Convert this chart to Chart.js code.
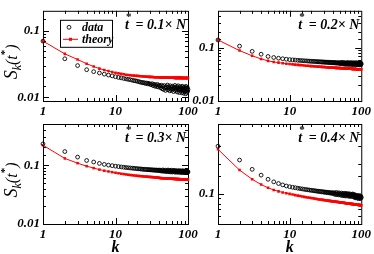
<!DOCTYPE html>
<html lang="en">
<head>
<meta charset="UTF-8">
<title>S_k(t*) versus k</title>
<script src="https://cdn.jsdelivr.net/npm/chart.js@4"></script>
<style>
  body { margin: 0; background: #fff; }
  #wrap { position: relative; width: 374px; height: 254px; }
  canvas { position: absolute; left: 0; top: 0; }
</style>
</head>
<body>
<div id="wrap">
  <canvas id="p1" width="374" height="254"></canvas>
  <canvas id="p2" width="374" height="254"></canvas>
  <canvas id="p3" width="374" height="254"></canvas>
  <canvas id="p4" width="374" height="254"></canvas>
</div>
<script>
// k = 1..100 (x positions of every sample)
const k = Array.from({length: 100}, (_, i) => i + 1);

// t* = 0.1 N
const data01 = [
  0.070, 0.038, 0.030, 0.026, 0.0243, 0.0232, 0.0223, 0.0216, 0.0210, 0.0204,
  0.0199, 0.0196, 0.0192, 0.0189, 0.0186, 0.0184, 0.0181, 0.0178, 0.0177, 0.0174,
  0.0172, 0.0169, 0.0168, 0.0165, 0.0166, 0.0161, 0.0164, 0.0159, 0.0162, 0.0157,
  0.0155, 0.0160, 0.0150, 0.0157, 0.0147, 0.0154, 0.0145, 0.0156, 0.0143, 0.0151,
  0.0148, 0.0139, 0.0152, 0.0135, 0.0146, 0.0131, 0.0150, 0.0138, 0.0127, 0.0145,
  0.0140, 0.0153, 0.0130, 0.0144, 0.0136, 0.0125, 0.0149, 0.0133, 0.0141, 0.0128,
  0.0147, 0.0134, 0.0122, 0.0143, 0.0137, 0.0151, 0.0126, 0.0139, 0.0131, 0.0145,
  0.0120, 0.0138, 0.0149, 0.0129, 0.0135, 0.0118, 0.0144, 0.0132, 0.0126, 0.0141,
  0.0136, 0.0117, 0.0147, 0.0130, 0.0124, 0.0139, 0.0115, 0.0133, 0.0143, 0.0127,
  0.0121, 0.0137, 0.0113, 0.0146, 0.0129, 0.0134, 0.0119, 0.0140, 0.0125, 0.0131
];
const theory01 = [
  0.070, 0.045, 0.037, 0.032, 0.029, 0.027, 0.0258, 0.0248, 0.0240, 0.0234,
  0.0229, 0.0225, 0.0222, 0.0219, 0.0217, 0.0215, 0.0213, 0.0212, 0.0211, 0.0210,
  0.0209, 0.0208, 0.0207, 0.0206, 0.0206, 0.0205, 0.0204, 0.0204, 0.0203, 0.0203,
  0.0202, 0.0202, 0.0202, 0.0201, 0.0201, 0.0201, 0.0200, 0.0200, 0.0200, 0.0200,
  0.0199, 0.0199, 0.0199, 0.0199, 0.0199, 0.0198, 0.0198, 0.0198, 0.0198, 0.0198,
  0.0198, 0.0198, 0.0197, 0.0197, 0.0197, 0.0197, 0.0197, 0.0197, 0.0197, 0.0197,
  0.0197, 0.0197, 0.0197, 0.0197, 0.0196, 0.0196, 0.0196, 0.0196, 0.0196, 0.0196,
  0.0196, 0.0196, 0.0196, 0.0196, 0.0196, 0.0196, 0.0196, 0.0196, 0.0196, 0.0196,
  0.0196, 0.0196, 0.0195, 0.0195, 0.0195, 0.0195, 0.0195, 0.0195, 0.0195, 0.0195,
  0.0195, 0.0195, 0.0195, 0.0195, 0.0195, 0.0195, 0.0195, 0.0195, 0.0195, 0.0195
];

// t* = 0.2 N
const data02 = [
  0.141, 0.108, 0.086, 0.076, 0.069, 0.066, 0.064, 0.0625, 0.0612, 0.0602,
  0.0595, 0.0590, 0.0584, 0.0580, 0.0576, 0.0572, 0.0569, 0.0566, 0.0563, 0.0560,
  0.0558, 0.0554, 0.0556, 0.0549, 0.0551, 0.0545, 0.0548, 0.0541, 0.0545, 0.0538,
  0.0542, 0.0535, 0.0540, 0.0532, 0.0537, 0.0529, 0.0535, 0.0527, 0.0533, 0.0524,
  0.0531, 0.0522, 0.0530, 0.0519, 0.0528, 0.0517, 0.0526, 0.0515, 0.0524, 0.0513,
  0.0528, 0.0501, 0.0519, 0.0535, 0.0497, 0.0512, 0.0530, 0.0494, 0.0521, 0.0506,
  0.0489, 0.0526, 0.0510, 0.0495, 0.0532, 0.0503, 0.0487, 0.0518, 0.0499, 0.0524,
  0.0492, 0.0509, 0.0529, 0.0485, 0.0514, 0.0497, 0.0521, 0.0483, 0.0506, 0.0525,
  0.0490, 0.0512, 0.0481, 0.0518, 0.0496, 0.0527, 0.0486, 0.0503, 0.0479, 0.0515,
  0.0493, 0.0522, 0.0484, 0.0508, 0.0477, 0.0511, 0.0498, 0.0519, 0.0482, 0.0505
];
const theory02 = [
  0.141, 0.089, 0.071, 0.062, 0.057, 0.0545, 0.0528, 0.0515, 0.0505, 0.0497,
  0.0490, 0.0484, 0.0479, 0.0474, 0.0470, 0.0466, 0.0463, 0.0460, 0.0457, 0.0454,
  0.0452, 0.0450, 0.0448, 0.0446, 0.0444, 0.0442, 0.0441, 0.0439, 0.0438, 0.0436,
  0.0435, 0.0434, 0.0433, 0.0431, 0.0430, 0.0429, 0.0428, 0.0427, 0.0426, 0.0425,
  0.0424, 0.0423, 0.0422, 0.0421, 0.0421, 0.0420, 0.0419, 0.0418, 0.0417, 0.0417,
  0.0416, 0.0415, 0.0415, 0.0414, 0.0413, 0.0413, 0.0412, 0.0411, 0.0411, 0.0410,
  0.0410, 0.0409, 0.0409, 0.0408, 0.0408, 0.0407, 0.0407, 0.0406, 0.0406, 0.0405,
  0.0405, 0.0404, 0.0404, 0.0403, 0.0403, 0.0402, 0.0402, 0.0402, 0.0401, 0.0401,
  0.0400, 0.0400, 0.0400, 0.0399, 0.0399, 0.0398, 0.0398, 0.0398, 0.0397, 0.0397,
  0.0397, 0.0396, 0.0396, 0.0396, 0.0395, 0.0395, 0.0395, 0.0394, 0.0394, 0.0394
];

// t* = 0.3 N
const data03 = [
  0.230, 0.170, 0.137, 0.120, 0.113, 0.107, 0.103, 0.100, 0.098, 0.096,
  0.0945, 0.0932, 0.0921, 0.0911, 0.0903, 0.0895, 0.0888, 0.0882, 0.0876, 0.0870,
  0.0866, 0.0860, 0.0858, 0.0851, 0.0850, 0.0843, 0.0845, 0.0836, 0.0840, 0.0830,
  0.0836, 0.0825, 0.0832, 0.0820, 0.0829, 0.0816, 0.0826, 0.0812, 0.0823, 0.0808,
  0.0825, 0.0800, 0.0815, 0.0788, 0.0830, 0.0795, 0.0810, 0.0780, 0.0822, 0.0792,
  0.0808, 0.0775, 0.0826, 0.0790, 0.0770, 0.0815, 0.0798, 0.0768, 0.0820, 0.0785,
  0.0762, 0.0805, 0.0790, 0.0812, 0.0770, 0.0797, 0.0758, 0.0808, 0.0780, 0.0765,
  0.0800, 0.0772, 0.0755, 0.0795, 0.0783, 0.0806, 0.0760, 0.0788, 0.0752, 0.0798,
  0.0776, 0.0750, 0.0792, 0.0766, 0.0802, 0.0758, 0.0781, 0.0748, 0.0795, 0.0770,
  0.0745, 0.0786, 0.0762, 0.0799, 0.0752, 0.0778, 0.0742, 0.0790, 0.0760, 0.0768
];
const theory03 = [
  0.218, 0.130, 0.108, 0.096, 0.089, 0.084, 0.0805, 0.0780, 0.0760, 0.0742,
  0.0728, 0.0715, 0.0704, 0.0695, 0.0687, 0.0680, 0.0674, 0.0668, 0.0663, 0.0659,
  0.0655, 0.0651, 0.0648, 0.0645, 0.0642, 0.0639, 0.0637, 0.0634, 0.0632, 0.0630,
  0.0628, 0.0626, 0.0624, 0.0622, 0.0620, 0.0618, 0.0616, 0.0614, 0.0612, 0.0610,
  0.0603, 0.0602, 0.0601, 0.0600, 0.0599, 0.0598, 0.0597, 0.0596, 0.0595, 0.0594,
  0.0593, 0.0592, 0.0592, 0.0591, 0.0590, 0.0589, 0.0589, 0.0588, 0.0587, 0.0587,
  0.0586, 0.0585, 0.0585, 0.0584, 0.0584, 0.0583, 0.0582, 0.0582, 0.0581, 0.0581,
  0.0580, 0.0580, 0.0579, 0.0579, 0.0578, 0.0578, 0.0577, 0.0577, 0.0576, 0.0576,
  0.0575, 0.0575, 0.0575, 0.0574, 0.0574, 0.0573, 0.0573, 0.0572, 0.0572, 0.0572,
  0.0571, 0.0571, 0.0570, 0.0570, 0.0570, 0.0569, 0.0569, 0.0569, 0.0568, 0.0568
];

// t* = 0.4 N
const data04 = [
  0.300, 0.218, 0.176, 0.154, 0.140, 0.132, 0.127, 0.123, 0.120, 0.118,
  0.1165, 0.1152, 0.1140, 0.1130, 0.1121, 0.1112, 0.1105, 0.1098, 0.1092, 0.1086,
  0.1082, 0.1074, 0.1073, 0.1064, 0.1066, 0.1055, 0.1059, 0.1047, 0.1052, 0.1040,
  0.1046, 0.1033, 0.1041, 0.1027, 0.1036, 0.1021, 0.1032, 0.1015, 0.1027, 0.1010,
  0.1030, 0.0995, 0.1018, 0.0985, 0.1035, 0.0990, 0.1012, 0.0978, 0.1025, 0.0988,
  0.1005, 0.0968, 0.1020, 0.0982, 0.0962, 0.1010, 0.0990, 0.0958, 0.1015, 0.0975,
  0.0952, 0.1000, 0.0980, 0.1008, 0.0960, 0.0990, 0.0945, 0.1002, 0.0970, 0.0950,
  0.0995, 0.0962, 0.0940, 0.0985, 0.0972, 0.0998, 0.0948, 0.0978, 0.0935, 0.0988,
  0.0945, 0.0912, 0.0960, 0.0930, 0.0970, 0.0920, 0.0948, 0.0908, 0.0962, 0.0935,
  0.0900, 0.0950, 0.0922, 0.0962, 0.0905, 0.0938, 0.0895, 0.0952, 0.0912, 0.0925
];
const theory04 = [
  0.279, 0.173, 0.140, 0.124, 0.115, 0.1095, 0.1060, 0.1035, 0.1015, 0.1000,
  0.0985, 0.0972, 0.0961, 0.0951, 0.0942, 0.0934, 0.0927, 0.0920, 0.0914, 0.0908,
  0.0903, 0.0898, 0.0893, 0.0889, 0.0885, 0.0881, 0.0877, 0.0874, 0.0871, 0.0868,
  0.0865, 0.0862, 0.0859, 0.0857, 0.0854, 0.0852, 0.0850, 0.0847, 0.0845, 0.0843,
  0.0841, 0.0839, 0.0837, 0.0835, 0.0833, 0.0831, 0.0829, 0.0828, 0.0826, 0.0824,
  0.0823, 0.0821, 0.0820, 0.0818, 0.0817, 0.0815, 0.0814, 0.0812, 0.0811, 0.0810,
  0.0808, 0.0807, 0.0806, 0.0804, 0.0803, 0.0802, 0.0801, 0.0799, 0.0798, 0.0797,
  0.0796, 0.0795, 0.0794, 0.0793, 0.0792, 0.0791, 0.0790, 0.0789, 0.0788, 0.0787,
  0.0786, 0.0785, 0.0784, 0.0783, 0.0782, 0.0781, 0.0780, 0.0779, 0.0779, 0.0778,
  0.0777, 0.0776, 0.0775, 0.0774, 0.0774, 0.0773, 0.0772, 0.0771, 0.0771, 0.0770
];

const tFractions = ['0.1', '0.2', '0.3', '0.4'];
const seriesNames = ['data', 'theory'];

const SERIF = '"Liberation Serif", "DejaVu Serif", serif';
const isDecade = v => Math.abs(Math.log10(v) - Math.round(Math.log10(v))) < 1e-6;
const decadeLabel = v => v >= 1 ? String(Math.round(v)) : v.toFixed(Math.round(-Math.log10(v)));

// box around the plot with inward ticks on all four sides
const framePlugin = {
  id: 'frame',
  beforeDatasetsDraw(chart) {
    const {ctx, chartArea: a, scales: {x, y}} = chart;
    ctx.save();
    ctx.strokeStyle = '#000';
    ctx.lineWidth = 1;
    ctx.beginPath();
    x.ticks.forEach(t => {
      if (t.value <= x.min || t.value >= x.max) return;
      const px = Math.round(x.getPixelForValue(t.value)) + 0.5;
      const len = isDecade(t.value) ? 6 : 3;
      ctx.moveTo(px, a.bottom); ctx.lineTo(px, a.bottom - len);
      ctx.moveTo(px, a.top); ctx.lineTo(px, a.top + len);
    });
    y.ticks.forEach(t => {
      if (t.value <= y.min || t.value >= y.max) return;
      const py = Math.round(y.getPixelForValue(t.value)) + 0.5;
      const len = isDecade(t.value) ? 6 : 3;
      ctx.moveTo(a.left, py); ctx.lineTo(a.left + len, py);
      ctx.moveTo(a.right, py); ctx.lineTo(a.right - len, py);
    });
    ctx.stroke();
    ctx.strokeRect(a.left + 0.5, a.top + 0.5, a.right - a.left, a.bottom - a.top);
    ctx.restore();
  }
};

// t* label, legend box, axis titles
const textPlugin = {
  id: 'panelText',
  afterDraw(chart, args, o) {
    const {ctx, chartArea: a} = chart;
    ctx.save();
    ctx.fillStyle = '#000';
    ctx.textBaseline = 'alphabetic';
    ctx.textAlign = 'left';

    // "t* = 0.1x N"
    ctx.font = 'italic bold 14px ' + SERIF;
    const rest = ' = ' + o.t + '\u00d7 N';
    const wRest = ctx.measureText(rest).width;
    const wT = ctx.measureText('t').width;
    const xEnd = a.right - 2;
    const base = a.top + 18;
    ctx.fillText('t', xEnd - wRest - wT - 3, base);
    ctx.fillText(rest, xEnd - wRest, base);
    ctx.font = 'bold 11px ' + SERIF;
    ctx.fillText('*', xEnd - wRest - wT - 2, base - 9);

    if (o.legend) {
      const ds = chart.data.datasets;
      const lx = a.left + 17, ly = a.top + 9;
      ctx.fillStyle = '#fff';
      ctx.fillRect(lx, ly, 52, 27);
      ctx.strokeStyle = '#000';
      ctx.lineWidth = 1;
      ctx.strokeRect(lx + 0.5, ly + 0.5, 52, 27);
      // data marker
      ctx.beginPath();
      ctx.arc(lx + 9, ly + 7.5, 1.9, 0, Math.PI * 2);
      ctx.lineWidth = 0.9;
      ctx.stroke();
      // theory marker
      ctx.strokeStyle = ds[1].borderColor;
      ctx.lineWidth = 1;
      ctx.beginPath();
      ctx.moveTo(lx + 3, ly + 19.5); ctx.lineTo(lx + 18, ly + 19.5);
      ctx.stroke();
      ctx.fillStyle = ds[1].borderColor;
      ctx.fillRect(lx + 9, ly + 18, 3, 3);
      ctx.fillStyle = '#000';
      ctx.font = 'italic bold 12px ' + SERIF;
      ctx.fillText(ds[0].label, lx + 22, ly + 11);
      ctx.fillText(ds[1].label, lx + 22, ly + 23);
    }

    if (o.yTitle) {
      const cy = (a.top + a.bottom) / 2 + 6;
      ctx.translate(17, cy);
      ctx.rotate(-Math.PI / 2);
      ctx.font = 'italic 18px ' + SERIF;
      const parts = [
        ['S', 'italic 18px ', 0],
        ['k', 'italic 12px ', 4],
        ['(t', 'italic 16px ', 0],
        ['*', 'bold 11px ', -9],
        [')', 'italic 16px ', 0]
      ];
      let total = 0;
      parts.forEach(p => { ctx.font = p[1] + SERIF; total += ctx.measureText(p[0]).width; });
      let x0 = -total / 2;
      parts.forEach(p => {
        ctx.font = p[1] + SERIF;
        ctx.fillText(p[0], x0, p[2]);
        x0 += ctx.measureText(p[0]).width;
      });
      ctx.setTransform(1, 0, 0, 1, 0, 0);
    }

    if (o.xTitle) {
      ctx.font = 'italic bold 16px ' + SERIF;
      ctx.textAlign = 'center';
      ctx.fillText('k', (a.left + a.right) / 2, 252);
    }
    ctx.restore();
  }
};

function makePanel(id, dataVals, theoryVals, t, yMin, yMax, pad, extra) {
  const tickFont = {family: SERIF, size: 13, style: 'italic', weight: 'bold'};
  return new Chart(document.getElementById(id), {
    type: 'line',
    data: {
      datasets: [
        {
          label: seriesNames[0],
          data: k.map((kk, i) => ({x: kk, y: dataVals[i]})),
          showLine: false,
          pointStyle: 'circle',
          pointRadius: 1.9,
          pointBorderWidth: 0.9,
          borderColor: '#000',
          backgroundColor: 'rgba(0,0,0,0)',
          clip: 6
        },
        {
          label: seriesNames[1],
          data: k.map((kk, i) => ({x: kk, y: theoryVals[i]})),
          borderColor: '#ff0000',
          borderWidth: 1,
          pointStyle: 'rect',
          pointRadius: 1.8,
          pointBorderWidth: 0,
          pointBackgroundColor: '#ff0000',
          clip: 6
        }
      ]
    },
    options: {
      responsive: false,
      animation: false,
      layout: {padding: pad},
      plugins: {
        legend: {display: false},
        tooltip: {enabled: false},
        panelText: Object.assign({t}, extra)
      },
      scales: {
        x: {
          type: 'logarithmic', min: 1, max: 100,
          afterFit: s => { s.height = 20; },
          grid: {display: false, drawTicks: false},
          border: {display: false},
          ticks: {autoSkip: false, maxRotation: 0, padding: 3, color: '#000', font: tickFont,
                  callback: v => isDecade(v) ? decadeLabel(v) : ''}
        },
        y: {
          type: 'logarithmic', min: yMin, max: yMax,
          afterFit: s => { s.width = 40; },
          grid: {display: false, drawTicks: false},
          border: {display: false},
          ticks: {autoSkip: false, padding: 3, color: '#000', font: tickFont,
                  callback: v => isDecade(v) ? decadeLabel(v) : ''}
        }
      }
    },
    plugins: [framePlugin, textPlugin]
  });
}

makePanel('p1', data01, theory01, tFractions[0], 0.0088, 0.2,
  {left: 3, top: 1, right: 186, bottom: 133}, {legend: true, yTitle: true});
makePanel('p2', data02, theory02, tFractions[1], 0.01, 0.5,
  {left: 178, top: 1, right: 11, bottom: 133}, {});
makePanel('p3', data03, theory03, tFractions[2], 0.01, 0.5,
  {left: 3, top: 124, right: 186, bottom: 10}, {yTitle: true, xTitle: true});
makePanel('p4', data04, theory04, tFractions[3], 0.05, 0.5,
  {left: 178, top: 124, right: 11, bottom: 10}, {xTitle: true});
</script>
</body>
</html>
